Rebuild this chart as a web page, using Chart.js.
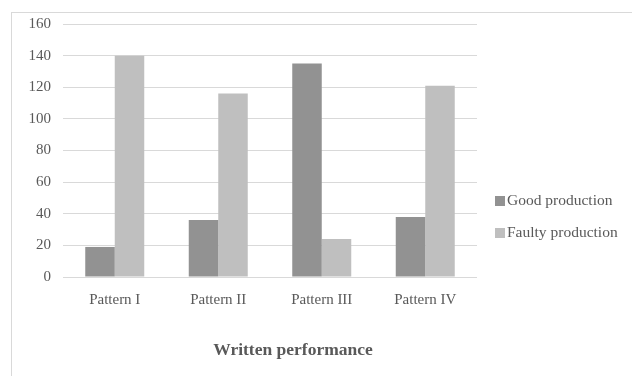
<!DOCTYPE html>
<html lang="en">
<head>
    <meta charset="UTF-8">
    <title>Written performance</title>
    <script src="https://cdn.jsdelivr.net/npm/chart.js"></script>
    <style>
        html, body { margin: 0; padding: 0; background: #fff; overflow: hidden; }
        .quadro { position: relative; width: 632px; height: 376px; }
        .moldura { position: absolute; left: 11px; top: 12px; width: 700px; height: 500px; border: 1px solid #d9d9d9; }
        canvas { position: absolute; left: 0; top: 0; }
    </style>
</head>
<body>
<div class="quadro">
    <div class="moldura"></div>
    <canvas id="grafico" width="632" height="376"></canvas>
</div>

<script>
    const categorias = ['Pattern I', 'Pattern II', 'Pattern III', 'Pattern IV'];
    const boaProducao = [19, 36, 135, 38];
    const producaoFalha = [140, 116, 24, 121];
    const nomesSeries = ['Good production', 'Faulty production'];
    const tituloEixo = 'Written performance';

    const fonte = 'Liberation Serif';
    const corTexto = '#595959';

    // legenda desenhada a partir dos datasets
    const legendaLateral = {
        id: 'legendaLateral',
        afterDraw(chart) {
            const ctx = chart.ctx;
            ctx.save();
            ctx.font = '15.5px "' + fonte + '"';
            ctx.textBaseline = 'middle';
            chart.data.datasets.forEach((ds, i) => {
                const y = 201 + i * 32;
                ctx.fillStyle = ds.backgroundColor;
                ctx.fillRect(495, y - 5, 10, 10);
                ctx.fillStyle = corTexto;
                ctx.fillText(ds.label, 507, y);
            });
            // titulo do eixo
            ctx.font = 'bold 17.5px "' + fonte + '"';
            ctx.textAlign = 'center';
            ctx.fillText(tituloEixo, 293, 350);
            ctx.restore();
        }
    };

    new Chart(document.getElementById('grafico'), {
        type: 'bar',
        data: {
            labels: categorias,
            datasets: [{
                label: nomesSeries[0],
                data: boaProducao,
                backgroundColor: '#929292'
            }, {
                label: nomesSeries[1],
                data: producaoFalha,
                backgroundColor: '#bfbfbf'
            }]
        },
        options: {
            responsive: false,
            animation: false,
            layout: { padding: { top: 24, right: 155, left: 0, bottom: 0 } },
            datasets: { bar: { barPercentage: 1, categoryPercentage: 0.57 } },
            plugins: {
                legend: { display: false },
                tooltip: { enabled: false }
            },
            scales: {
                x: {
                    grid: { display: false, drawTicks: false },
                    border: { display: false },
                    ticks: { color: corTexto, font: { family: fonte, size: 15 }, padding: 14 },
                    afterFit(axis) { axis.height = 99; }
                },
                y: {
                    min: 0,
                    max: 160,
                    grid: { color: '#d9d9d9', drawTicks: false },
                    border: { display: false },
                    ticks: { stepSize: 20, color: corTexto, font: { family: fonte, size: 15 }, padding: 12 },
                    afterFit(axis) { axis.width = 63; }
                }
            }
        },
        plugins: [legendaLateral]
    });
</script>
</body>
</html>
